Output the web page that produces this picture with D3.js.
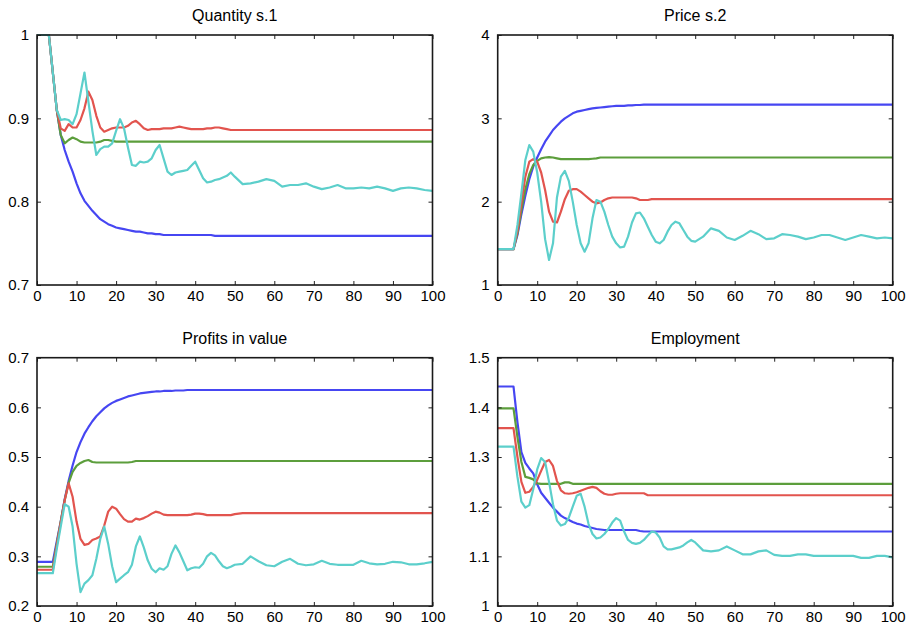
<!DOCTYPE html>
<html>
<head>
<meta charset="utf-8">
<script src="https://cdn.jsdelivr.net/npm/d3@7"></script>
<style>
  body { margin: 0; background: #fff; }
  svg { display: block; font-family: "Liberation Sans", Arial, Helvetica, sans-serif; }
  .tick line { stroke: #222; }
  .tick text { fill: #000; font-size: 15px; }
  .title { font-size: 16px; fill: #000; }
</style>
</head>
<body>
<svg width="913" height="626"></svg>
<script>
// sample periods (every period up to 50, then every second one)
var periods = [
  0, 1, 2, 3, 4, 5, 6, 7, 8, 9,
  10, 11, 12, 13, 14, 15, 16, 17, 18, 19,
  20, 21, 22, 23, 24, 25, 26, 27, 28, 29,
  30, 31, 32, 33, 34, 35, 36, 37, 38, 39,
  40, 41, 42, 43, 44, 45, 46, 47, 48, 49, 50,
  52, 54, 56, 58, 60, 62, 64, 66, 68, 70,
  72, 74, 76, 78, 80, 82, 84, 86, 88, 90,
  92, 94, 96, 98, 100
];

var xTicks = [0, 10, 20, 30, 40, 50, 60, 70, 80, 90, 100];
var xTickLabels = ["0", "10", "20", "30", "40", "50", "60", "70", "80", "90", "100"];

// Quantity s.1
var qBlue = [
  1, 1, 1, 1, 0.955, 0.91, 0.88, 0.862, 0.848, 0.836,
  0.822, 0.81, 0.801, 0.795, 0.789, 0.784, 0.779, 0.776, 0.773, 0.771,
  0.769, 0.768, 0.767, 0.766, 0.765, 0.764, 0.764, 0.763, 0.762, 0.762,
  0.761, 0.761, 0.76, 0.76, 0.76, 0.76, 0.76, 0.76, 0.76, 0.76,
  0.76, 0.76, 0.76, 0.76, 0.76, 0.759, 0.759, 0.759, 0.759, 0.759, 0.759,
  0.759, 0.759, 0.759, 0.759, 0.759, 0.759, 0.759, 0.759, 0.759, 0.759,
  0.759, 0.759, 0.759, 0.759, 0.759, 0.759, 0.759, 0.759, 0.759, 0.759,
  0.759, 0.759, 0.759, 0.759, 0.759
];
var qGreen = [
  1, 1, 1, 1, 0.955, 0.91, 0.88, 0.87, 0.874, 0.877,
  0.875, 0.872, 0.871, 0.871, 0.871, 0.871, 0.872, 0.874, 0.874, 0.873,
  0.872, 0.872, 0.872, 0.872, 0.872, 0.872, 0.872, 0.872, 0.872, 0.872,
  0.872, 0.872, 0.872, 0.872, 0.872, 0.872, 0.872, 0.872, 0.872, 0.872,
  0.872, 0.872, 0.872, 0.872, 0.872, 0.872, 0.872, 0.872, 0.872, 0.872, 0.872,
  0.872, 0.872, 0.872, 0.872, 0.872, 0.872, 0.872, 0.872, 0.872, 0.872,
  0.872, 0.872, 0.872, 0.872, 0.872, 0.872, 0.872, 0.872, 0.872, 0.872,
  0.872, 0.872, 0.872, 0.872, 0.872
];
var qRed = [
  1, 1, 1, 1, 0.955, 0.91, 0.888, 0.885, 0.893, 0.889,
  0.889, 0.898, 0.912, 0.932, 0.922, 0.903, 0.889, 0.884, 0.886, 0.888,
  0.889, 0.889, 0.889, 0.891, 0.895, 0.897, 0.893, 0.888, 0.886, 0.887,
  0.887, 0.887, 0.888, 0.888, 0.888, 0.889, 0.89, 0.889, 0.888, 0.887,
  0.887, 0.887, 0.887, 0.888, 0.888, 0.889, 0.889, 0.888, 0.887, 0.886, 0.886,
  0.886, 0.886, 0.886, 0.886, 0.886, 0.886, 0.886, 0.886, 0.886, 0.886,
  0.886, 0.886, 0.886, 0.886, 0.886, 0.886, 0.886, 0.886, 0.886, 0.886,
  0.886, 0.886, 0.886, 0.886, 0.886
];
var qCyan = [
  1, 1, 1, 1, 0.955, 0.91, 0.898, 0.899, 0.898, 0.893,
  0.905, 0.93, 0.955, 0.92, 0.885, 0.856, 0.863, 0.866, 0.866, 0.87,
  0.885, 0.899, 0.888, 0.865, 0.844, 0.843, 0.848, 0.847, 0.848, 0.852,
  0.862, 0.868, 0.852, 0.836, 0.832, 0.835, 0.836, 0.837, 0.838, 0.843,
  0.848, 0.838, 0.828, 0.823, 0.824, 0.826, 0.827, 0.829, 0.831, 0.835, 0.83,
  0.821, 0.822, 0.824, 0.827, 0.825, 0.818, 0.82, 0.82, 0.822, 0.818,
  0.815, 0.817, 0.82, 0.816, 0.816, 0.817, 0.816, 0.818, 0.816, 0.813,
  0.816, 0.817, 0.816, 0.814, 0.813
];

// Price s.2
var pBlue = [
  1.43, 1.43, 1.43, 1.43, 1.43, 1.6, 1.85, 2.07, 2.27, 2.42,
  2.53, 2.63, 2.72, 2.79, 2.86, 2.91, 2.96, 3.0, 3.03, 3.06,
  3.08, 3.09, 3.1, 3.11, 3.12, 3.125, 3.13, 3.135, 3.14, 3.145,
  3.15, 3.15, 3.15, 3.155, 3.155, 3.16, 3.16, 3.165, 3.165, 3.165,
  3.165, 3.165, 3.165, 3.165, 3.165, 3.165, 3.165, 3.165, 3.165, 3.165, 3.165,
  3.165, 3.165, 3.165, 3.165, 3.165, 3.165, 3.165, 3.165, 3.165, 3.165,
  3.165, 3.165, 3.165, 3.165, 3.165, 3.165, 3.165, 3.165, 3.165, 3.165,
  3.165, 3.165, 3.165, 3.165, 3.165
];
var pGreen = [
  1.43, 1.43, 1.43, 1.43, 1.43, 1.62, 1.9, 2.15, 2.33, 2.44,
  2.49, 2.52, 2.53, 2.535, 2.53, 2.52, 2.51, 2.51, 2.51, 2.51,
  2.51, 2.51, 2.51, 2.51, 2.515, 2.52, 2.53, 2.53, 2.53, 2.53,
  2.53, 2.53, 2.53, 2.53, 2.53, 2.53, 2.53, 2.53, 2.53, 2.53,
  2.53, 2.53, 2.53, 2.53, 2.53, 2.53, 2.53, 2.53, 2.53, 2.53, 2.53,
  2.53, 2.53, 2.53, 2.53, 2.53, 2.53, 2.53, 2.53, 2.53, 2.53,
  2.53, 2.53, 2.53, 2.53, 2.53, 2.53, 2.53, 2.53, 2.53, 2.53,
  2.53, 2.53, 2.53, 2.53, 2.53
];
var pRed = [
  1.43, 1.43, 1.43, 1.43, 1.43, 1.65, 1.98, 2.3, 2.48, 2.51,
  2.48, 2.35, 2.14, 1.88, 1.76, 1.75, 1.88, 2.03, 2.13, 2.15,
  2.15, 2.12, 2.08, 2.04, 2.0, 1.98, 1.99, 2.02, 2.04, 2.05,
  2.05, 2.05, 2.05, 2.05, 2.05, 2.04, 2.02, 2.02, 2.02, 2.03,
  2.03, 2.03, 2.03, 2.03, 2.03, 2.03, 2.03, 2.03, 2.03, 2.03, 2.03,
  2.03, 2.03, 2.03, 2.03, 2.03, 2.03, 2.03, 2.03, 2.03, 2.03,
  2.03, 2.03, 2.03, 2.03, 2.03, 2.03, 2.03, 2.03, 2.03, 2.03,
  2.03, 2.03, 2.03, 2.03, 2.03
];
var pCyan = [
  1.43, 1.43, 1.43, 1.43, 1.43, 1.72, 2.1, 2.5, 2.68, 2.6,
  2.35, 2.0, 1.55, 1.3, 1.5, 2.05, 2.3, 2.37, 2.25, 2.0,
  1.72, 1.5, 1.4, 1.5, 1.8, 2.02, 2.0, 1.88, 1.72, 1.58,
  1.5, 1.45, 1.46, 1.58, 1.75, 1.86, 1.87, 1.8, 1.7, 1.6,
  1.52, 1.5, 1.54, 1.64, 1.72, 1.76, 1.74, 1.66, 1.58, 1.53, 1.52,
  1.58, 1.68, 1.65, 1.57, 1.54, 1.59, 1.65, 1.61, 1.55, 1.56,
  1.61, 1.6, 1.58, 1.55, 1.57, 1.6, 1.6, 1.57, 1.54, 1.57,
  1.6, 1.58, 1.56, 1.57, 1.56
];

// Profits in value
var vBlue = [
  0.289, 0.289, 0.289, 0.289, 0.289, 0.33, 0.37, 0.415, 0.452, 0.483,
  0.51, 0.53, 0.547, 0.56, 0.572, 0.582, 0.59, 0.598, 0.604, 0.609,
  0.613, 0.616, 0.619, 0.622, 0.624, 0.626, 0.628, 0.629, 0.63, 0.631,
  0.632, 0.632, 0.633, 0.633, 0.633, 0.634, 0.634, 0.634, 0.635, 0.635,
  0.635, 0.635, 0.635, 0.635, 0.635, 0.635, 0.635, 0.635, 0.635, 0.635, 0.635,
  0.635, 0.635, 0.635, 0.635, 0.635, 0.635, 0.635, 0.635, 0.635, 0.635,
  0.635, 0.635, 0.635, 0.635, 0.635, 0.635, 0.635, 0.635, 0.635, 0.635,
  0.635, 0.635, 0.635, 0.635, 0.635
];
var vGreen = [
  0.279, 0.279, 0.279, 0.279, 0.279, 0.325, 0.37, 0.413, 0.448, 0.47,
  0.482, 0.488, 0.492, 0.494, 0.49, 0.489, 0.489, 0.489, 0.489, 0.489,
  0.489, 0.489, 0.489, 0.489, 0.49, 0.492, 0.492, 0.492, 0.492, 0.492,
  0.492, 0.492, 0.492, 0.492, 0.492, 0.492, 0.492, 0.492, 0.492, 0.492,
  0.492, 0.492, 0.492, 0.492, 0.492, 0.492, 0.492, 0.492, 0.492, 0.492, 0.492,
  0.492, 0.492, 0.492, 0.492, 0.492, 0.492, 0.492, 0.492, 0.492, 0.492,
  0.492, 0.492, 0.492, 0.492, 0.492, 0.492, 0.492, 0.492, 0.492, 0.492,
  0.492, 0.492, 0.492, 0.492, 0.492
];
var vRed = [
  0.273, 0.273, 0.273, 0.273, 0.273, 0.322, 0.368, 0.413, 0.447, 0.42,
  0.37, 0.335, 0.323, 0.325, 0.333, 0.336, 0.34, 0.362, 0.39, 0.4,
  0.396, 0.385, 0.375, 0.37, 0.37, 0.376, 0.374, 0.377, 0.381, 0.386,
  0.39, 0.388, 0.384, 0.383, 0.383, 0.383, 0.383, 0.383, 0.383, 0.384,
  0.386, 0.386, 0.385, 0.383, 0.383, 0.383, 0.383, 0.383, 0.383, 0.383, 0.385,
  0.387, 0.387, 0.387, 0.387, 0.387, 0.387, 0.387, 0.387, 0.387, 0.387,
  0.387, 0.387, 0.387, 0.387, 0.387, 0.387, 0.387, 0.387, 0.387, 0.387,
  0.387, 0.387, 0.387, 0.387, 0.387
];
var vCyan = [
  0.266, 0.266, 0.266, 0.266, 0.266, 0.315, 0.36, 0.405, 0.4, 0.36,
  0.285, 0.228, 0.245, 0.252, 0.262, 0.295, 0.335, 0.36, 0.325, 0.28,
  0.248, 0.255, 0.262, 0.268, 0.283, 0.32, 0.34, 0.318, 0.292, 0.275,
  0.268, 0.276, 0.273, 0.28, 0.305, 0.322, 0.308, 0.29, 0.272, 0.276,
  0.278, 0.277, 0.285, 0.3, 0.307, 0.302, 0.29, 0.28, 0.276, 0.279, 0.283,
  0.285, 0.3, 0.29, 0.282, 0.28, 0.289, 0.295, 0.285, 0.282, 0.284,
  0.291, 0.285, 0.283, 0.283, 0.283, 0.291, 0.286, 0.284, 0.285, 0.289,
  0.288, 0.284, 0.284, 0.286, 0.289
];

// Employment
var eBlue = [
  1.442, 1.442, 1.442, 1.442, 1.442, 1.37, 1.31, 1.288, 1.277, 1.267,
  1.245, 1.228, 1.218, 1.208, 1.198, 1.19, 1.182, 1.177, 1.173, 1.169,
  1.166, 1.164, 1.161, 1.159, 1.157, 1.155, 1.154, 1.153, 1.153, 1.153,
  1.153, 1.153, 1.153, 1.153, 1.153, 1.153, 1.151, 1.15, 1.15, 1.15,
  1.15, 1.15, 1.15, 1.15, 1.15, 1.15, 1.15, 1.15, 1.15, 1.15, 1.15,
  1.15, 1.15, 1.15, 1.15, 1.15, 1.15, 1.15, 1.15, 1.15, 1.15,
  1.15, 1.15, 1.15, 1.15, 1.15, 1.15, 1.15, 1.15, 1.15, 1.15,
  1.15, 1.15, 1.15, 1.15, 1.15
];
var eGreen = [
  1.398, 1.398, 1.398, 1.398, 1.398, 1.34, 1.29, 1.26, 1.258, 1.255,
  1.247, 1.246, 1.246, 1.246, 1.246, 1.246, 1.246, 1.249, 1.249, 1.246,
  1.246, 1.246, 1.246, 1.246, 1.246, 1.246, 1.246, 1.246, 1.246, 1.246,
  1.246, 1.246, 1.246, 1.246, 1.246, 1.246, 1.246, 1.246, 1.246, 1.246,
  1.246, 1.246, 1.246, 1.246, 1.246, 1.246, 1.246, 1.246, 1.246, 1.246, 1.246,
  1.246, 1.246, 1.246, 1.246, 1.246, 1.246, 1.246, 1.246, 1.246, 1.246,
  1.246, 1.246, 1.246, 1.246, 1.246, 1.246, 1.246, 1.246, 1.246, 1.246,
  1.246, 1.246, 1.246, 1.246, 1.246
];
var eRed = [
  1.358, 1.358, 1.358, 1.358, 1.358, 1.3, 1.25, 1.228, 1.23, 1.24,
  1.254, 1.272, 1.29, 1.294, 1.282, 1.252, 1.233, 1.227, 1.226, 1.227,
  1.229, 1.232, 1.235, 1.238, 1.24, 1.238, 1.231, 1.226, 1.224, 1.224,
  1.226, 1.227, 1.227, 1.227, 1.227, 1.227, 1.227, 1.227, 1.223, 1.223,
  1.223, 1.223, 1.223, 1.223, 1.223, 1.223, 1.223, 1.223, 1.223, 1.223, 1.223,
  1.223, 1.223, 1.223, 1.223, 1.223, 1.223, 1.223, 1.223, 1.223, 1.223,
  1.223, 1.223, 1.223, 1.223, 1.223, 1.223, 1.223, 1.223, 1.223, 1.223,
  1.223, 1.223, 1.223, 1.223, 1.223
];
var eCyan = [
  1.321, 1.321, 1.321, 1.321, 1.321, 1.26, 1.21, 1.198, 1.203, 1.235,
  1.275, 1.298, 1.29, 1.25, 1.205, 1.172, 1.162, 1.165, 1.178, 1.2,
  1.222, 1.226, 1.2, 1.165, 1.145, 1.136, 1.138, 1.145, 1.155, 1.168,
  1.177, 1.172, 1.15, 1.133, 1.127, 1.125, 1.127, 1.133, 1.142, 1.15,
  1.148, 1.138, 1.12, 1.114, 1.114, 1.116, 1.118, 1.122, 1.128, 1.133, 1.128,
  1.112, 1.11, 1.112, 1.12, 1.112, 1.104, 1.104, 1.11, 1.112, 1.103,
  1.101, 1.101, 1.104, 1.104, 1.101, 1.101, 1.101, 1.101, 1.101, 1.101,
  1.097, 1.097, 1.101, 1.101, 1.098
];

var colors = ["#4646f2", "#5c9e3c", "#e2544e", "#5ccfcb"];

var panels = [
  { title: "Quantity s.1", series: [qBlue, qGreen, qRed, qCyan],
    yDomain: [0.7, 1], yTicks: [0.7, 0.8, 0.9, 1], yTickLabels: ["0.7", "0.8", "0.9", "1"] },
  { title: "Price s.2", series: [pBlue, pGreen, pRed, pCyan],
    yDomain: [1, 4], yTicks: [1, 2, 3, 4], yTickLabels: ["1", "2", "3", "4"] },
  { title: "Profits in value", series: [vBlue, vGreen, vRed, vCyan],
    yDomain: [0.2, 0.7], yTicks: [0.2, 0.3, 0.4, 0.5, 0.6, 0.7], yTickLabels: ["0.2", "0.3", "0.4", "0.5", "0.6", "0.7"] },
  { title: "Employment", series: [eBlue, eGreen, eRed, eCyan],
    yDomain: [1, 1.5], yTicks: [1, 1.1, 1.2, 1.3, 1.4, 1.5], yTickLabels: ["1", "1.1", "1.2", "1.3", "1.4", "1.5"] }
];

// plot boxes in pixels
var boxes = [
  { left: 37, right: 432.5, top: 35, bottom: 285 },
  { left: 497.7, right: 892.7, top: 35, bottom: 285 },
  { left: 37, right: 432.5, top: 357.7, bottom: 606 },
  { left: 497.7, right: 892.7, top: 357.7, bottom: 606 }
];

var svg = d3.select("svg");

panels.forEach(function(p, k) {
  var b = boxes[k];
  var x = d3.scaleLinear().domain([0, 100]).range([b.left, b.right]);
  var y = d3.scaleLinear().domain(p.yDomain).range([b.bottom, b.top]);
  var g = svg.append("g");

  // lines
  var line = d3.line()
      .defined(function(d) { return d[1] != null; })
      .x(function(d) { return x(d[0]); })
      .y(function(d) { return y(d[1]); });

  p.series.forEach(function(s, i) {
    g.append("path")
        .datum(periods.map(function(t, j) { return [t, s[j]]; }))
        .attr("fill", "none")
        .attr("stroke", colors[i])
        .attr("stroke-width", 2.2)
        .attr("stroke-linejoin", "round")
        .attr("d", line);
  });

  // axes, ticks pointing inward on all four sides
  g.append("g")
      .attr("transform", "translate(0," + b.bottom + ")")
      .call(d3.axisBottom(x).tickValues(xTicks)
        .tickFormat(function(d, i) { return xTickLabels[i]; })
        .tickSize(-4).tickPadding(5))
      .call(function(a) { a.select(".domain").remove(); });
  g.append("g")
      .attr("transform", "translate(0," + b.top + ")")
      .call(d3.axisTop(x).tickValues(xTicks).tickFormat("").tickSize(-4))
      .call(function(a) { a.select(".domain").remove(); });
  g.append("g")
      .attr("transform", "translate(" + b.left + ",0)")
      .call(d3.axisLeft(y).tickValues(p.yTicks)
        .tickFormat(function(d, i) { return p.yTickLabels[i]; })
        .tickSize(-4).tickPadding(8))
      .call(function(a) { a.select(".domain").remove(); });
  g.append("g")
      .attr("transform", "translate(" + b.right + ",0)")
      .call(d3.axisRight(y).tickValues(p.yTicks).tickFormat("").tickSize(-4))
      .call(function(a) { a.select(".domain").remove(); });

  g.selectAll(".tick text").attr("font-family", null).attr("font-size", null);

  // frame
  g.append("rect")
      .attr("x", b.left)
      .attr("y", b.top)
      .attr("width", b.right - b.left)
      .attr("height", b.bottom - b.top)
      .attr("fill", "none")
      .attr("stroke", "#1a1a1a")
      .attr("stroke-width", 1.6);

  g.append("text")
      .attr("class", "title")
      .attr("x", (b.left + b.right) / 2)
      .attr("y", b.top - 14)
      .attr("text-anchor", "middle")
      .text(p.title);
});
</script>
</body>
</html>
